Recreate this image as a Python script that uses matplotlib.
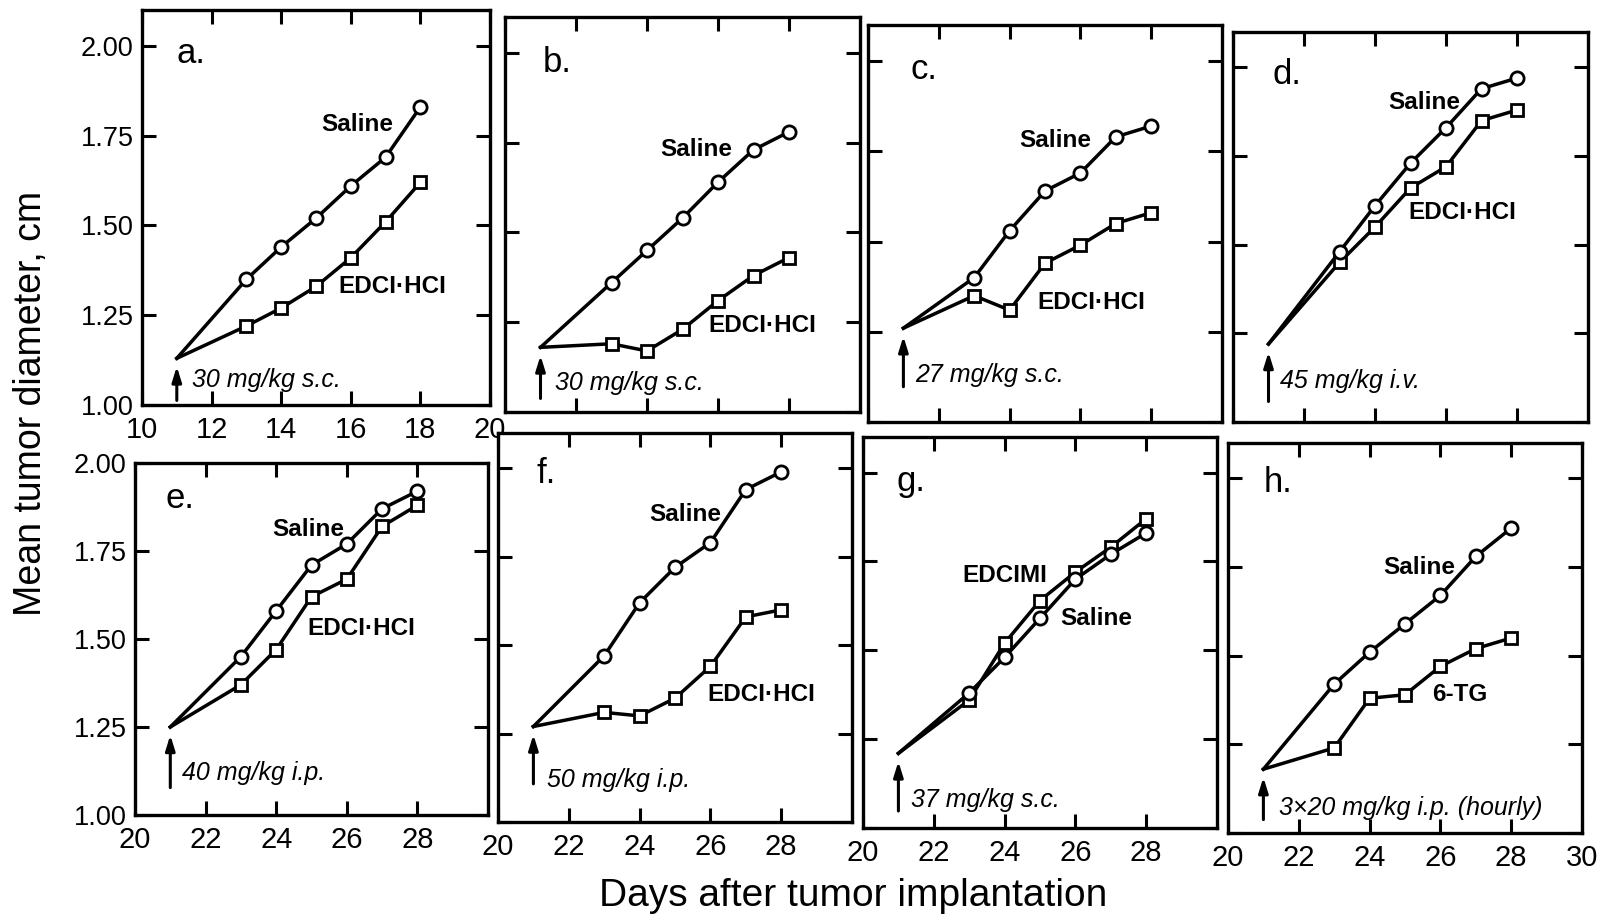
import matplotlib
matplotlib.use("Agg")
import matplotlib.pyplot as plt

plt.rcParams['font.family'] = ['Liberation Sans', 'DejaVu Sans']

# days of measurement (first point = treatment day, no marker)
days_a = [11, 13, 14, 15, 16, 17, 18]
days = [21, 23, 24, 25, 26, 27, 28]

# mean tumor diameter, cm  (upper = circles, lower = squares)
saline_a = [1.13, 1.35, 1.44, 1.52, 1.61, 1.69, 1.83]
edci_a = [1.13, 1.22, 1.27, 1.33, 1.41, 1.51, 1.62]
saline_b = [1.18, 1.36, 1.45, 1.54, 1.64, 1.73, 1.78]
edci_b = [1.18, 1.19, 1.17, 1.23, 1.31, 1.38, 1.43]
saline_c = [1.26, 1.40, 1.53, 1.64, 1.69, 1.79, 1.82]
edci_c = [1.26, 1.35, 1.31, 1.44, 1.49, 1.55, 1.58]
saline_d = [1.22, 1.48, 1.61, 1.73, 1.83, 1.94, 1.97]
edci_d = [1.22, 1.45, 1.55, 1.66, 1.72, 1.85, 1.88]
saline_e = [1.25, 1.45, 1.58, 1.71, 1.77, 1.87, 1.92]
edci_e = [1.25, 1.37, 1.47, 1.62, 1.67, 1.82, 1.88]
saline_f = [1.27, 1.47, 1.62, 1.72, 1.79, 1.94, 1.99]
edci_f = [1.27, 1.31, 1.30, 1.35, 1.44, 1.58, 1.60]
saline_g = [1.21, 1.38, 1.48, 1.59, 1.70, 1.77, 1.83]
edcimi_g = [1.21, 1.36, 1.52, 1.64, 1.72, 1.79, 1.87]
saline_h = [1.18, 1.42, 1.51, 1.59, 1.67, 1.78, 1.86]
tg_h = [1.18, 1.24, 1.38, 1.39, 1.47, 1.52, 1.55]

letters = ['a.', 'b.', 'c.', 'd.', 'e.', 'f.', 'g.', 'h.']
circles = [saline_a, saline_b, saline_c, saline_d, saline_e, saline_f, saline_g, saline_h]
squares = [edci_a, edci_b, edci_c, edci_d, edci_e, edci_f, edcimi_g, tg_h]
circle_names = ['Saline'] * 8
square_names = ['EDCI·HCI'] * 6 + ['EDCIMI', '6-TG']
doses = ['30 mg/kg s.c.', '30 mg/kg s.c.', '27 mg/kg s.c.', '45 mg/kg i.v.',
         '40 mg/kg i.p.', '50 mg/kg i.p.', '37 mg/kg s.c.', '3×20 mg/kg i.p. (hourly)']
yticks = [1.00, 1.25, 1.50, 1.75, 2.00]
ytick_labels = ['1.00', '1.25', '1.50', '1.75', '2.00']

# layout (pixels of the scanned page, which is a bit skewed)
W, H = 1601, 918
boxes = [(142, 10, 490, 405), (505, 17, 860, 412), (868, 25, 1222, 422), (1233, 32, 1588, 422),
         (135, 463, 488, 815), (498, 433, 852, 822), (863, 437, 1217, 828), (1228, 443, 1582, 833)]
circle_pos = [(16.2, 1.78), (25.4, 1.73), (25.3, 1.78), (25.4, 1.90),
              (24.9, 1.81), (25.3, 1.87), (26.6, 1.59), (25.4, 1.75)]
square_pos = [(17.2, 1.33), (27.25, 1.24), (26.3, 1.33), (26.45, 1.59),
              (26.4, 1.53), (27.45, 1.36), (24.0, 1.71), (26.55, 1.39)]
dose_pos = [(11.45, 1.07), (21.42, 1.08), (21.32, 1.13), (21.32, 1.115),
            (21.32, 1.12), (21.39, 1.12), (21.36, 1.08), (21.45, 1.07)]
arrow_low = [1.005, 1.03, 1.09, 1.05, 1.07, 1.10, 1.04, 1.03]
letter_pos = [(0.10, 0.89), (0.107, 0.886), (0.12, 0.887), (0.11, 0.89),
              (0.085, 0.90), (0.11, 0.897), (0.096, 0.887), (0.10, 0.90)]

fig = plt.figure(figsize=(W / 100, H / 100), dpi=100)

for i in range(8):
    l, t, r, b = boxes[i]
    ax = fig.add_axes([l / W, 1 - b / H, (r - l) / W, (b - t) / H])
    xs = days_a if i == 0 else days

    ax.plot(xs, squares[i], color='black', lw=2.5, marker='s', ms=9, mfc='white',
            mec='black', mew=2, markevery=slice(1, None), zorder=3)
    ax.plot(xs, circles[i], color='black', lw=2.5, marker='o', ms=9.5, mfc='white',
            mec='black', mew=2, markevery=slice(1, None), zorder=3)

    ax.annotate('', xy=(xs[0], circles[i][0] - 0.015), xytext=(xs[0], arrow_low[i]),
                arrowprops=dict(arrowstyle='-|>,head_length=0.45,head_width=0.14',
                                color='black', lw=2.2, mutation_scale=20))

    ax.text(dose_pos[i][0], dose_pos[i][1], doses[i], fontsize=18, style='italic',
            ha='left', va='center')
    ax.text(circle_pos[i][0], circle_pos[i][1], circle_names[i], fontsize=17.5,
            fontweight='bold', ha='center', va='center')
    ax.text(square_pos[i][0], square_pos[i][1], square_names[i], fontsize=17.5,
            fontweight='bold', ha='center', va='center')
    ax.text(letter_pos[i][0], letter_pos[i][1], letters[i], transform=ax.transAxes,
            fontsize=25, ha='left', va='center')

    if i == 0:
        ax.set_xlim(10, 20)
        ax.set_xticks([10, 12, 14, 16, 18, 20])
    else:
        ax.set_xlim(20, 30)
        if i == 7:
            ax.set_xticks([20, 22, 24, 26, 28, 30])
        else:
            ax.set_xticks([20, 22, 24, 26, 28])
    ax.set_ylim(1.0, 2.0 if i == 4 else 2.1)
    ax.set_yticks(yticks)
    ax.set_yticklabels(ytick_labels)

    ax.tick_params(axis='both', direction='in', length=10, width=2.2,
                   top=True, right=True)
    ax.tick_params(axis='x', labelsize=21, pad=8)
    ax.tick_params(axis='y', labelsize=19.5, pad=6)
    if i not in (0, 4):
        ax.tick_params(labelleft=False)
    if i in (1, 2, 3):
        ax.tick_params(labelbottom=False)
    for sp in ax.spines.values():
        sp.set_linewidth(2.4)

fig.text(31 / W, 1 - 403 / H, 'Mean tumor diameter, cm', rotation=90, fontsize=27,
         ha='center', va='center')
fig.text(853 / W, 1 - 896 / H, 'Days after tumor implantation', fontsize=28,
         ha='center', va='center')

fig.savefig('out.png', dpi=100, facecolor='white')
